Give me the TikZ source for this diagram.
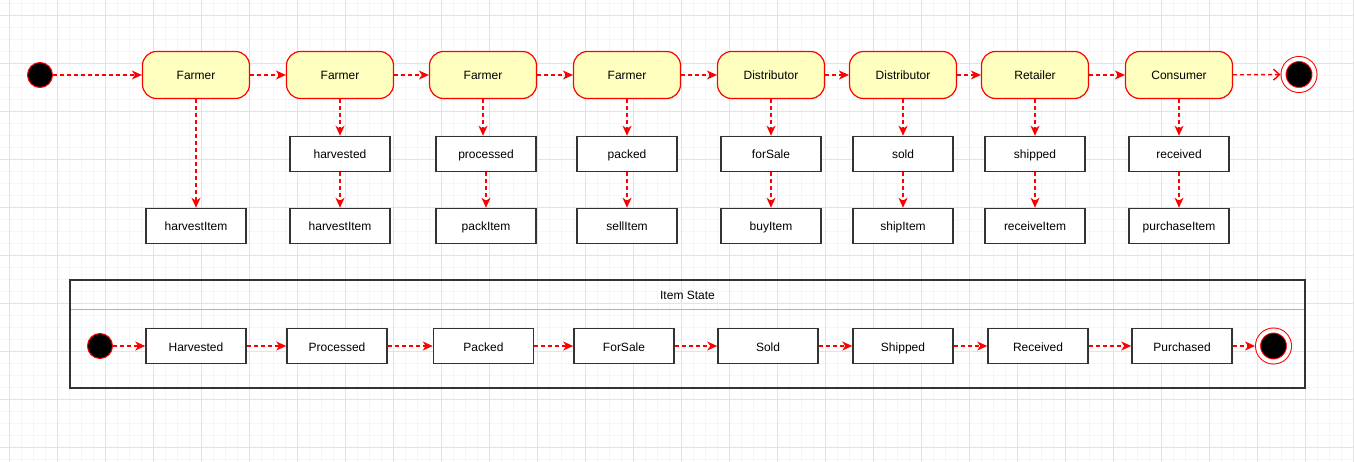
\documentclass[tikz,border=0pt]{standalone}
\usepackage{fontspec}
\setmainfont{Liberation Sans}
\usetikzlibrary{arrows.meta}
\definecolor{stateyellow}{HTML}{FFFFC0}
\definecolor{boxline}{HTML}{333333}
\begin{document}
\begin{tikzpicture}[x=1pt,y=-1pt,
 font=\fontsize{12}{14}\selectfont,
 state/.style={draw=red,fill=stateyellow,rounded corners=14pt,line width=1.2pt,minimum width=107pt,minimum height=47pt,text height=10pt,text depth=0pt},
 item/.style={draw=boxline,fill=white,line width=1.5pt,minimum width=100pt,minimum height=35pt,text height=10pt,text depth=0pt},
 startdot/.style={circle,draw=red,fill=black,line width=1pt,minimum size=25pt,inner sep=0pt},
 enddot/.style={circle,draw=red,fill=black,line width=1pt,double=white,double distance=4pt,minimum size=31pt,inner sep=0pt,outer sep=3pt},
 flow/.style={red,line width=1.4pt,dash pattern=on 4pt off 3pt,-{Stealth[length=10pt,width=9pt,inset=3pt]}},
 openflow/.style={red,line width=1.4pt,dash pattern=on 4pt off 3pt,-{Straight Barb[length=6pt,width=11pt]}},
 minorgrid/.style={gray!7,line width=0.8pt},
 majorgrid/.style={gray!22,line width=0.8pt}]
\useasboundingbox (0,0) rectangle (1354,462);
\fill[white] (0,0) rectangle (1354,462);
\foreach \i in {0,...,112} \draw[minorgrid] ({9.5+12*\i},0) -- ({9.5+12*\i},462);
\foreach \i in {0,...,38} \draw[minorgrid] (0,{3+12*\i}) -- (1354,{3+12*\i});
\foreach \i in {0,...,28} \draw[majorgrid] ({9.5+48*\i},0) -- ({9.5+48*\i},462);
\foreach \i in {0,...,9} \draw[majorgrid] (0,{15+48*\i}) -- (1354,{15+48*\i});

\node[startdot] (a0) at (40,75) {};
\foreach \n/\x/\t in {a1/196/Farmer,a2/340/Farmer,a3/483/Farmer,a4/627/Farmer,
 a5/771/Distributor,a6/903/Distributor,a7/1035/Retailer,a8/1179/Consumer}
 \node[state] (\n) at (\x,75) {\t};
\node[enddot] (a9) at (1299,74.5) {};
\foreach \n/\x/\t in {m2/340/harvested,m3/486/processed,m4/627/packed,m5/771/forSale,
 m6/903/sold,m7/1035/shipped,m8/1179/received}
 \node[item] (\n) at (\x,154) {\t};
\foreach \n/\x/\t in {b1/196/harvestItem,b2/340/harvestItem,b3/486/packItem,b4/627/sellItem,
 b5/771/buyItem,b6/903/shipItem,b7/1035/receiveItem,b8/1179/purchaseItem}
 \node[item] (\n) at (\x,226) {\t};
\foreach \i/\j in {0/1,1/2,2/3,3/4,4/5,5/6,6/7,7/8} \draw[flow] (a\i) -- (a\j);
\draw[openflow] (a8) -- (a9);
\draw[flow] (a1) -- (b1);
\foreach \i in {2,...,8}{
 \draw[flow] (a\i) -- (a\i |- m\i.north);
 \draw[flow] (m\i) -- (b\i);
}

\draw[line width=2pt,draw=boxline] (70,280) rectangle (1305,388);
\draw[line width=1pt,gray!60] (71,309) -- (1304,309);
\node[text height=10pt,text depth=0pt] (title) at (687.5,294) {Item State};
\node[startdot] (c0) at (100,346) {};
\foreach \n/\x/\t in {c1/196/Harvested,c2/337/Processed,c3/483.5/Packed,c4/624/ForSale,
 c5/768/Sold,c6/903/Shipped,c7/1038/Received,c8/1182/Purchased}
 \node[item] (\n) at (\x,346) {\t};
\node[enddot] (c9) at (1273.5,346) {};
\foreach \i/\j in {0/1,1/2,2/3,3/4,4/5,5/6,6/7,7/8,8/9} \draw[flow] (c\i) -- (c\j);
\end{tikzpicture}
\end{document}
